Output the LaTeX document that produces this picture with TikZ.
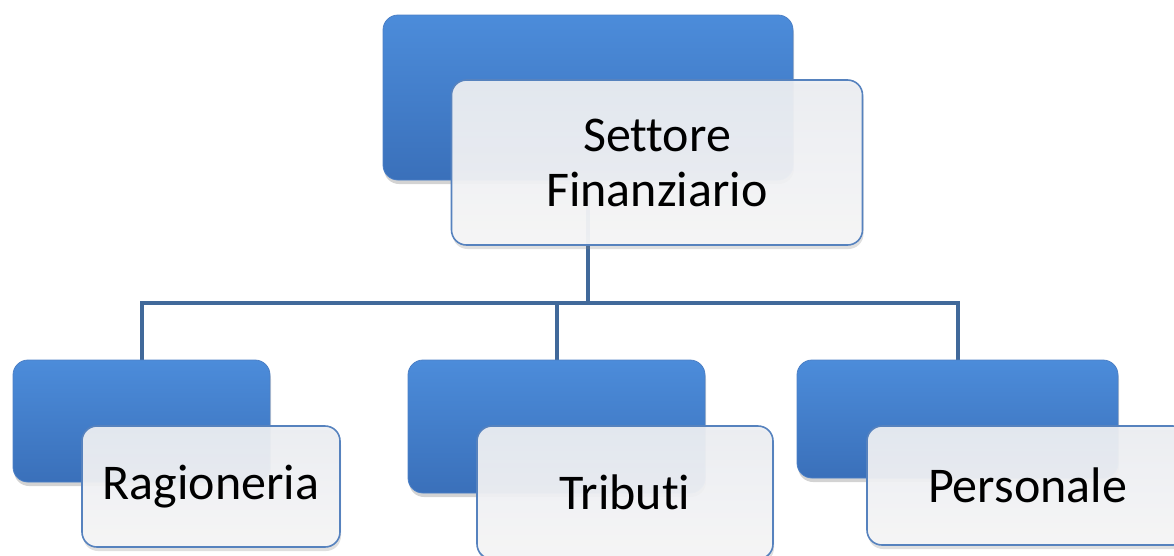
\documentclass[tikz,border=0pt]{standalone}
\usepackage{fontspec}
\setmainfont[Ligatures=CommonOff]{Carlito}
\usetikzlibrary{shadows,backgrounds}
\definecolor{boxtop}{RGB}{76,140,218}
\definecolor{boxbot}{RGB}{58,112,186}
\definecolor{boxline}{RGB}{76,128,198}
\definecolor{cardtop}{RGB}{236,238,242}
\definecolor{cardbot}{RGB}{246,246,247}
\definecolor{cardline}{RGB}{86,130,190}
\definecolor{linkcol}{RGB}{65,105,154}
\tikzset{
  backbox/.style={rounded corners=15pt, inner sep=0pt, draw=boxline, line width=0.8pt,
    top color=boxtop, bottom color=boxbot,
    drop shadow={opacity=0.35, shadow xshift=1pt, shadow yshift=-4pt}},
  frontbox/.style={rounded corners=15pt, inner sep=0pt, align=center, draw=cardline,
    line width=1.6pt, top color=cardtop, bottom color=cardbot, fill opacity=0.94,
    text opacity=1, font=\fontsize{50}{55}\selectfont,
    drop shadow={opacity=0.25, shadow xshift=1pt, shadow yshift=-4pt}},
  link/.style={line width=4pt, draw=linkcol}
}
\begin{document}
\begin{tikzpicture}[x=1pt,y=-1pt]
  \useasboundingbox (0,0) rectangle (1174,555);
  % settore
  \node[backbox, minimum width=410pt, minimum height=165pt] (settoreback) at (588,97.5) {};
  \node[frontbox, minimum width=411pt, minimum height=165pt] (settore) at (657,162.5) {Settore\\Finanziario};
  % uffici
  \node[backbox, minimum width=257pt, minimum height=122pt] (ragback) at (141.5,421) {};
  \node[frontbox, minimum width=258pt, minimum height=121pt] (ragioneria) at (211,486.5) {Ragioneria};
  \node[backbox, minimum width=297pt, minimum height=133pt] (tribback) at (556.5,426.5) {};
  \node[frontbox, minimum width=296pt, minimum height=133pt] (tributi) at (625,492.5) {Tributi};
  \node[backbox, minimum width=321pt, minimum height=118pt] (persback) at (957.5,419) {};
  \node[frontbox, minimum width=321pt, minimum height=119pt] (personale) at (1027.5,485.5) {Personale};
  \coordinate (bus) at (0,303);
  \begin{scope}[on background layer]
    \foreach \kid in {ragback,tribback,persback}
      \draw[link] (settoreback.south) -- (settoreback.south |- bus) -| (\kid.north);
  \end{scope}
\end{tikzpicture}
\end{document}
